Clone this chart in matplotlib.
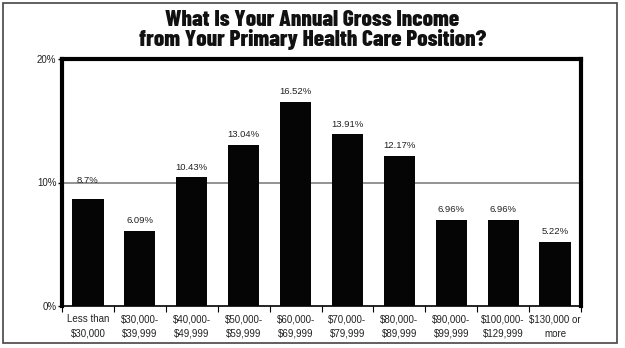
import matplotlib
matplotlib.use("Agg")
import matplotlib.pyplot as plt
import numpy as np
from matplotlib.ticker import FixedLocator, NullFormatter

categories = ["Less than\n$30,000", "$30,000-\n$39,999", "$40,000-\n$49,999",
              "$50,000-\n$59,999", "$60,000-\n$69,999", "$70,000-\n$79,999",
              "$80,000-\n$89,999", "$90,000-\n$99,999", "$100,000-\n$129,999",
              "$130,000 or\nmore"]
values = [8.7, 6.09, 10.43, 13.04, 16.52, 13.91, 12.17, 6.96, 6.96, 5.22]
value_labels = ["8.7%", "6.09%", "10.43%", "13.04%", "16.52%", "13.91%",
                "12.17%", "6.96%", "6.96%", "5.22%"]
y_ticks = [0, 10, 20]
y_ticklabels = ["0%", "10%", "20%"]
title = "What Is Your Annual Gross Income\nfrom Your Primary Health Care Position?"

fig = plt.figure(figsize=(6.25, 3.48), dpi=100)
ax = fig.add_axes([62/625, 42/348, (581-62)/625, (306-59)/348])

x = np.arange(len(categories))
ax.bar(x, values, width=0.6, color="#050505", zorder=3)
ax.set_xlim(-0.5, len(categories) - 0.5)
ax.set_ylim(0, 20)

ax.axhline(10, color="#808080", lw=1.2, zorder=1)

lab_font = ["Liberation Sans", "DejaVu Sans"]
for xi, v, lab in zip(x, values, value_labels):
    off = 1.1 if lab == "8.7%" else 0.45
    ax.text(xi, v + off, lab, ha="center", va="bottom", fontsize=6.8,
            family=lab_font, color="#222222")

ax.set_yticks(y_ticks)
ax.set_yticklabels(y_ticklabels, fontsize=7, family=lab_font, color="#222222")
ax.tick_params(axis="y", direction="out", length=3, width=1, pad=1)

ax.set_xticks(x)
ax.set_xticklabels(categories, fontsize=7, family=lab_font,
                   color="#222222", linespacing=1.55)
ax.tick_params(axis="x", which="major", length=0, pad=6)
ax.xaxis.set_minor_locator(FixedLocator(np.arange(-0.5, len(categories), 1.0)))
ax.xaxis.set_minor_formatter(NullFormatter())
ax.tick_params(axis="x", which="minor", direction="out", length=4, width=0.8)

for side in ["top", "right", "left"]:
    ax.spines[side].set_linewidth(3)
    ax.spines[side].set_color("black")
ax.spines["bottom"].set_linewidth(1.2)
ax.spines["bottom"].set_color("black")

fig.text(0.5, 1 - 10/348, title, ha="center", va="top", fontsize=16.8,
         fontweight=800, family=["Barlow Condensed", "DejaVu Sans"],
         stretch="condensed", linespacing=0.95, color="#111111")

border = plt.Rectangle((3/625, 5/348), 614/625, 340/348, transform=fig.transFigure,
                       fill=False, edgecolor="#444444", lw=1.2)
fig.patches.append(border)

fig.savefig("out.png", dpi=100)
